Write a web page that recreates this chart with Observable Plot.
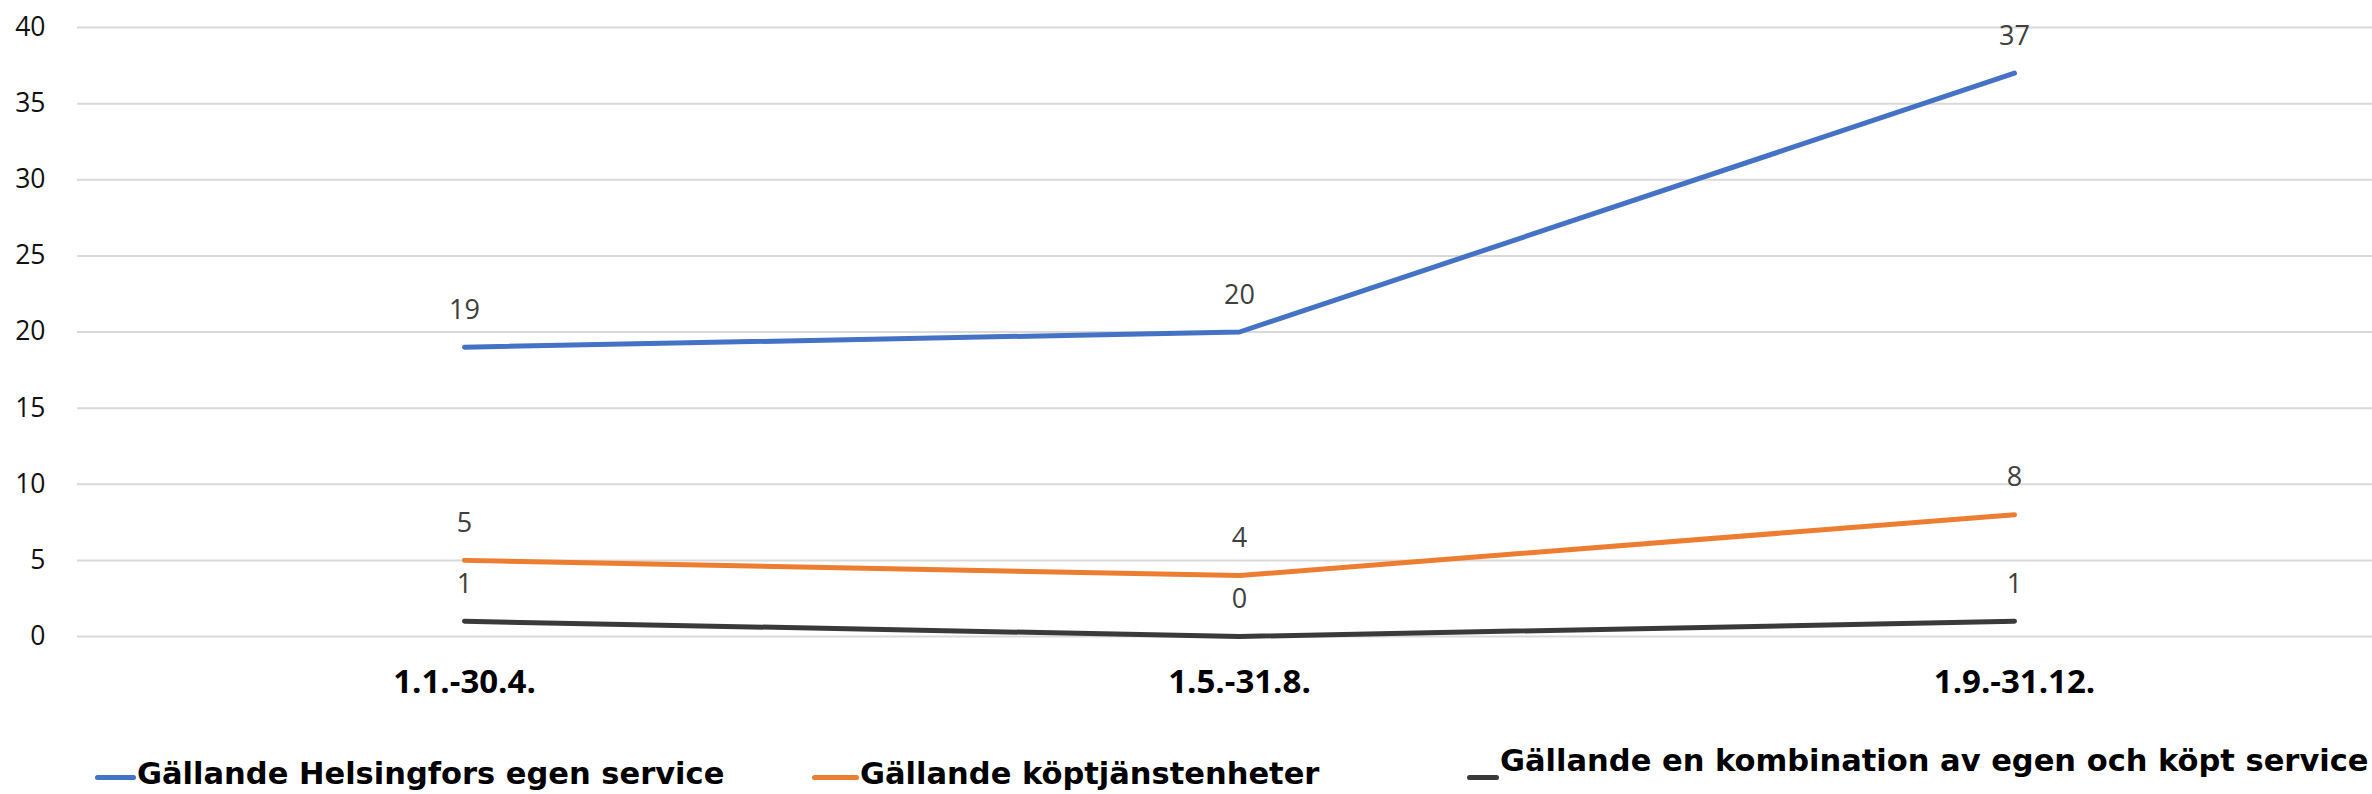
<!DOCTYPE html>
<html>
<head>
<meta charset="utf-8">
<script src="https://cdn.jsdelivr.net/npm/d3@7"></script>
<script src="https://cdn.jsdelivr.net/npm/@observablehq/plot@0.6"></script>
<style>
  html, body { margin: 0; padding: 0; background: #fff; }
  #wrap { position: relative; width: 2372px; height: 794px; overflow: hidden; }
  #chart { position: absolute; left: 0; top: 0; }
  .lg-mark { position: absolute; height: 5px; border-radius: 3px; }
  .lg-text { position: absolute; font-family: "DejaVu Sans", sans-serif; font-weight: bold; font-size: 30.5px; line-height: 30px; color: #000; white-space: nowrap; }
</style>
</head>
<body>
<div id="wrap">
  <div id="chart"></div>
  <div id="legend"></div>
</div>
<script>
const categories = ["1.1.-30.4.", "1.5.-31.8.", "1.9.-31.12."];
const seriesNames = [
  "Gällande Helsingfors egen service",
  "Gällande köptjänstenheter",
  "Gällande en kombination av egen och köpt service"
];
const egenService = [19, 20, 37];
const kopService = [5, 4, 8];
const kombination = [1, 0, 1];
const seriesColors = ["#4472C4", "#ED7D31", "#3A3A3A"];
const yTicks = [0, 5, 10, 15, 20, 25, 30, 35, 40];

const seriesValues = [egenService, kopService, kombination];
const rows = [];
seriesNames.forEach((name, s) => {
  categories.forEach((c, i) => rows.push({series: name, period: c, value: seriesValues[s][i]}));
});

const plot = Plot.plot({
  width: 2372,
  height: 730,
  marginLeft: 77,
  marginRight: 0,
  marginTop: 27,
  marginBottom: 94,
  x: {type: "point", domain: categories, range: [463, 2014], padding: 0},
  y: {domain: [0, 40], ticks: yTicks},
  color: {domain: seriesNames, range: seriesColors},
  marks: [
    Plot.ruleY(yTicks, {stroke: "#D9D9D9", strokeWidth: 2}),
    Plot.axisY({ticks: yTicks, tickSize: 0, tickPadding: 32, fontSize: 26.5, fontFamily: "Open Sans, sans-serif", fill: "#111", label: null}),
    Plot.axisX({tickSize: 0, tickPadding: 33, fontSize: 33, fontWeight: "bold", fontFamily: "Open Sans, sans-serif", fill: "#000", label: null}),
    Plot.line(rows, {x: "period", y: "value", z: "series", stroke: "series", strokeWidth: 5, strokeLinecap: "round", strokeLinejoin: "round"}),
    Plot.text(rows, {x: "period", y: "value", text: d => String(d.value), dy: -37, fontSize: 27, fontFamily: "Open Sans, sans-serif", fill: "#404040"})
  ]
});
document.getElementById("chart").appendChild(plot);

const legendItems = [
  {markLeft: 95, markWidth: 41, markTop: 775, textLeft: 137, textTop: 759},
  {markLeft: 812, markWidth: 47, markTop: 775, textLeft: 860, textTop: 759},
  {markLeft: 1467, markWidth: 32, markTop: 775, textLeft: 1500, textTop: 746}
];
const legend = document.getElementById("legend");
seriesNames.forEach((name, i) => {
  const p = legendItems[i];
  const m = document.createElement("div");
  m.className = "lg-mark";
  m.style.left = p.markLeft + "px";
  m.style.top = p.markTop + "px";
  m.style.width = p.markWidth + "px";
  m.style.background = seriesColors[i];
  legend.appendChild(m);
  const t = document.createElement("div");
  t.className = "lg-text";
  t.style.left = p.textLeft + "px";
  t.style.top = p.textTop + "px";
  t.textContent = name;
  legend.appendChild(t);
});
</script>
</body>
</html>
